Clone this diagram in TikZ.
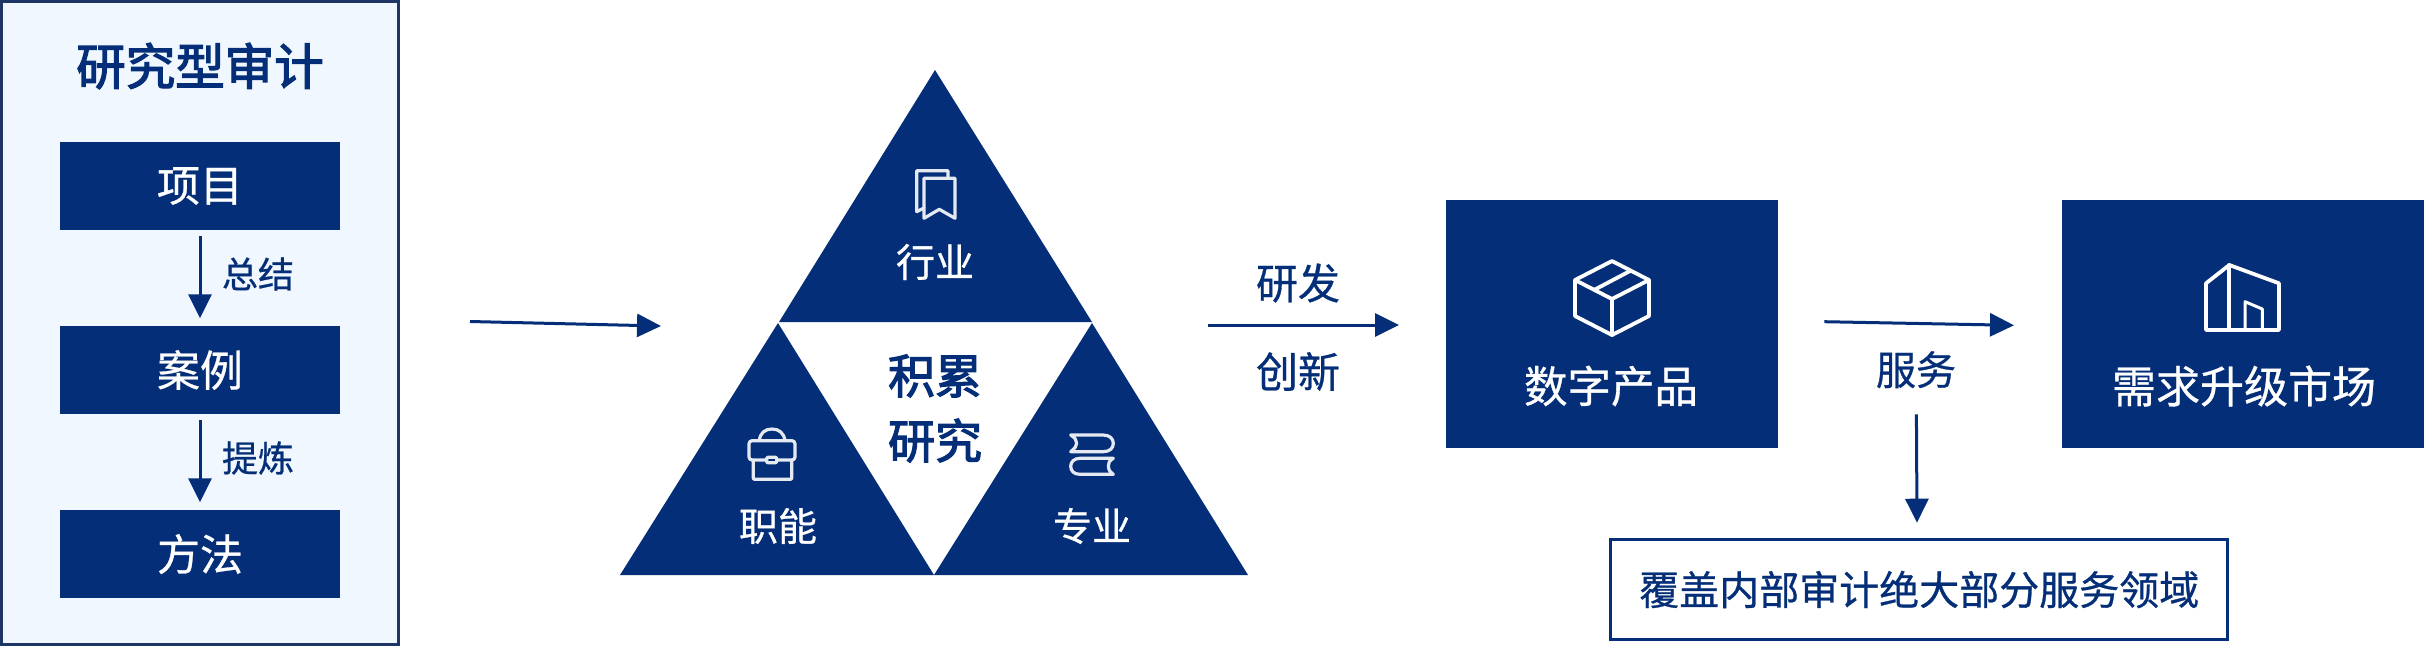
\documentclass[tikz,border=0pt]{standalone}
\usepackage{fontspec}
\setmainfont{Noto Sans CJK SC}[FakeBold=0.7]
\newfontfamily\titlefont{Noto Sans CJK SC}[FakeBold=2.6]
\usetikzlibrary{arrows.meta}
\definecolor{navy}{HTML}{042E77}
\definecolor{panelfill}{HTML}{F0F7FF}
\definecolor{panelline}{HTML}{1E3566}
\definecolor{iconline}{HTML}{E4E9F2}
\newcommand{\fs}[1]{\fontsize{#1}{#1}\selectfont}
\newcommand{\low}[1]{\raisebox{-2pt}{#1}}
\tikzset{
  x=1pt,y=-1pt,
  navybox/.style={fill=navy,draw=none,text=white,inner sep=0pt,font=\fs{43}},
  rowbox/.style={navybox,minimum width=280pt,minimum height=88pt},
  bigbox/.style={navybox,minimum height=248pt},
  tri/.style={fill=navy,draw=none},
  lab/.style={text=navy,inner sep=0pt,yshift=-2pt},
  wlab/.style={text=white,inner sep=0pt,font=\fs{39},yshift=-2pt},
  arr/.style={draw=navy,line width=3pt,-{Triangle[length=24pt,width=23pt]}},
  thinicon/.style={draw=iconline,line width=3.2pt,line join=round,line cap=round},
  whiteicon/.style={draw=white,line width=3.8pt,line join=round,line cap=round},
}
\begin{document}
\begin{tikzpicture}
\useasboundingbox (0,0) rectangle (2424,646);
% left panel
\node[fill=panelfill,draw=panelline,line width=3pt,minimum width=397pt,minimum height=643pt,inner sep=0pt] (panel) at (200,323) {};
\node[text=navy,inner sep=0pt,font=\titlefont\fs{49.5}] (title) at (200,66) {研究型审计};
\node[rowbox] (xm) at (200,186) {\low{项目}};
\node[rowbox] (al) at (200,370) {\low{案例}};
\node[rowbox] (ff) at (200,554) {\low{方法}};
\draw[arr,shorten <=6pt,shorten >=7.5pt] (xm.south) -- (al.north);
\draw[arr,shorten <=6pt,shorten >=7.5pt] (al.south) -- (ff.north);
\node[lab,font=\fs{36}] (zj) at (258,272) {总结};
\node[lab,font=\fs{36}] (tl) at (258,456) {提炼};
% arrow into the triangle
\coordinate (a1s) at (470,321.5);
\coordinate (a1e) at (661,326);
\draw[arr] (a1s) -- (a1e);
% triangles
\fill[tri] (935,70) -- (1092,322) -- (779,322) -- cycle;
\fill[tri] (778,323) -- (934,575) -- (620,575) -- cycle;
\fill[tri] (1092,323) -- (1248,575) -- (934,575) -- cycle;
\node[wlab] (hy) at (935,260) {行业};
\node[wlab] (zn) at (778,524) {职能};
\node[wlab] (zy) at (1092,524) {专业};
\node[text=navy,inner sep=0pt,font=\titlefont\fontsize{47}{65}\selectfont,align=center] (ljyj) at (935,408.5) {积累\\研究};
% bookmark icon
\draw[thinicon] (948,178) -- (948,170.7) -- (916.7,170.7) -- (916.7,211.7) -- (924,208);
\draw[thinicon] (924,178.3) -- (955,178.3) -- (955,218.3) -- (939.3,209.3) -- (924,218.3) -- cycle;
% briefcase icon
\draw[thinicon,rounded corners=3pt] (749,440.7) rectangle (795,460);
\draw[thinicon,rounded corners=1pt] (753.3,460) -- (753.3,479.3) -- (791.7,479.3) -- (791.7,460);
\draw[thinicon] (759.3,440.7) .. controls (760,433) and (765,429) .. (772,429) .. controls (779,429) and (784,433) .. (785,440.7);
\draw[thinicon,rounded corners=1pt,fill=navy] (766.7,457.3) rectangle (776.7,462.7);
% books icon
\draw[thinicon] (1070.7,435) -- (1103,435) .. controls (1110,435) and (1113.3,439) .. (1113.3,443.3) .. controls (1113.3,448) and (1110,451.7) .. (1103,451.7) -- (1070.7,451.7) .. controls (1075,448) and (1076.7,446) .. (1076.7,443.3) .. controls (1076.7,440) and (1075,438) .. (1070.7,435) -- cycle;
\draw[thinicon] (1113.3,458.3) -- (1080,458.3) .. controls (1074,458.3) and (1070.7,462) .. (1070.7,466.3) .. controls (1070.7,471) and (1074,474.3) .. (1080,474.3) -- (1113.3,474.3) .. controls (1109,471) and (1108.3,469) .. (1108.3,466.3) .. controls (1108.3,463) and (1109,461) .. (1113.3,458.3) -- cycle;
% r&d arrow
\coordinate (a2s) at (1208,325);
\coordinate (a2e) at (1399,325);
\draw[arr] (a2s) -- (a2e);
\node[lab,font=\fs{42}] (yf) at (1298,281) {研发};
\node[lab,font=\fs{42}] (cx) at (1298,369.5) {创新};
% product box
\node[bigbox,minimum width=332pt] (prod) at (1612,324) {};
\node[wlab,font=\fs{43.5}] (prodt) at (1611,384) {数字产品};
\draw[whiteicon] (1612,261) -- (1649,280) -- (1612,299) -- (1575,280) -- cycle;
\draw[whiteicon] (1575,280) -- (1575,316) -- (1612,335) -- (1649,316) -- (1649,280);
\draw[whiteicon] (1612,299) -- (1612,335);
\draw[whiteicon] (1594,290) -- (1630,271);
% market box
\node[bigbox,minimum width=362pt] (mkt) at (2243,324) {};
\node[wlab,font=\fs{44}] (mktt) at (2244,384) {需求升级市场};
\draw[whiteicon] (2229.3,265) -- (2206,283.3) -- (2206,330) -- (2279,330) -- (2279,283.3) -- cycle;
\draw[whiteicon] (2229.3,265) -- (2229.3,330);
\draw[whiteicon,line width=3pt] (2245,330) -- (2245,301.7) -- (2262.3,309) -- (2262.3,330);
% service arrows
\coordinate (a3s) at (1824.4,321.7);
\coordinate (a3e) at (2014,325.3);
\draw[arr] (a3s) -- (a3e);
\node[lab,font=\fs{40}] (fw) at (1916,367.7) {服务};
% scope box
\node[draw=navy,fill=white,line width=2.6pt,minimum width=617pt,minimum height=100pt,inner sep=0pt,text=navy,font=\fs{40}] (cov) at (1919.2,589.5) {\low{覆盖内部审计绝大部分服务领域}};
\coordinate (a4s) at (1916.4,414.3);
\coordinate (a4e) at (1917,522.7);
\draw[arr] (a4s) -- (a4e);
\end{tikzpicture}
\end{document}
